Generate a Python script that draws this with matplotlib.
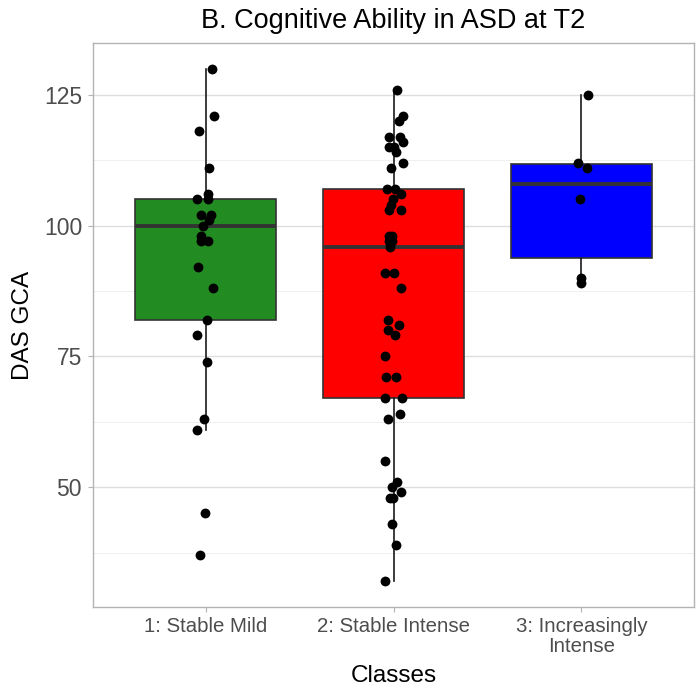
import matplotlib.pyplot as plt
from matplotlib.ticker import MultipleLocator

plt.rcParams['font.family'] = ['Liberation Sans', 'DejaVu Sans']

classes = ["1: Stable Mild", "2: Stable Intense", "3: Increasingly\nIntense"]
box_colors = ["#228B22", "#FF0000", "#0000FF"]

# box summaries (outliers are not drawn by the box, the points show them)
q1 = [82, 67, 93.75]
med = [100, 96, 108]
q3 = [105, 107, 111.75]
whis_lo = [61, 32, 89]
whis_hi = [130, 126, 125]

# individual DAS GCA scores, with the horizontal jitter seen in the picture
gca_mild = [130, 121, 118, 111, 106, 105, 105, 102, 102, 101, 100, 98,
            97, 97, 92, 88, 82, 79, 74, 63, 61, 45, 37]
jit_mild = [0.035, 0.044, -0.036, 0.019, 0.014, -0.046, 0.011, -0.027, 0.028, 0.018, -0.013, -0.025,
            -0.025, 0.011, -0.043, 0.037, 0.005, -0.048, 0.007, -0.009, -0.046, -0.004, -0.029]

gca_intense = [126, 121, 120, 117, 117, 116, 115, 115, 114, 112, 111, 107,
               107, 106, 105, 104, 103, 103, 98, 98, 97, 97, 96, 91,
               91, 88, 82, 81, 80, 79, 75, 71, 71, 67, 67, 64,
               63, 55, 51, 50, 49, 48, 48, 43, 39, 32]
jit_intense = [0.020, 0.052, 0.031, -0.024, 0.035, 0.052, -0.022, 0.003, 0.013, 0.049, -0.013, -0.035,
               0.008, 0.040, -0.003, -0.013, -0.024, 0.040, -0.024, -0.008, -0.024, -0.008, -0.019, -0.045,
               0.003, 0.042, -0.031, 0.029, -0.028, 0.010, -0.044, -0.040, 0.013, -0.044, 0.044, 0.035,
               -0.028, -0.044, 0.020, -0.010, 0.038, -0.019, -0.004, -0.006, 0.015, -0.044]

gca_increasing = [125, 112, 111, 105, 90, 89]
jit_increasing = [0.034, -0.016, 0.032, -0.007, -0.003, -0.003]

scores = [gca_mild, gca_intense, gca_increasing]
jitters = [jit_mild, jit_intense, jit_increasing]

fig = plt.figure(figsize=(6.96, 6.90), dpi=100)
ax = fig.add_axes([93 / 696, 1 - 607 / 690, 601 / 696, 564 / 690])

stats = []
for i in range(len(classes)):
    stats.append({'q1': q1[i], 'med': med[i], 'q3': q3[i],
                  'whislo': whis_lo[i], 'whishi': whis_hi[i], 'label': classes[i]})

bp = ax.bxp(stats, positions=[1, 2, 3], widths=0.75, showfliers=False, showcaps=False,
            patch_artist=True,
            boxprops=dict(edgecolor='#333333', linewidth=1.2),
            medianprops=dict(color='#333333', linewidth=2.8),
            whiskerprops=dict(color='#1a1a1a', linewidth=1.2))
for patch, c in zip(bp['boxes'], box_colors):
    patch.set_facecolor(c)

for i in range(len(classes)):
    xs = [i + 1 + j for j in jitters[i]]
    ax.scatter(xs, scores[i], s=50, color='black', zorder=5, linewidths=0)

ax.set_xlim(0.4, 3.6)
ax.set_ylim(27.1, 134.9)
ax.set_xticks([1, 2, 3])
ax.set_xticklabels(classes, linespacing=1.1)
ax.yaxis.set_major_locator(MultipleLocator(25))
ax.yaxis.set_minor_locator(MultipleLocator(12.5))

ax.set_axisbelow(True)
ax.grid(axis='y', which='major', color='#DEDEDE', linewidth=1.0)
ax.grid(axis='y', which='minor', color='#EFEFEF', linewidth=0.7)
ax.tick_params(axis='y', which='minor', length=0)
ax.tick_params(axis='both', which='major', length=3.6, width=0.8, color='#B3B3B3',
               labelcolor='#4D4D4D')
ax.tick_params(axis='y', labelsize=16.5, pad=4.3)
ax.tick_params(axis='x', labelsize=14.7, pad=3.6)
for sp in ax.spines.values():
    sp.set_color('#B3B3B3')
    sp.set_linewidth(1.0)

ax.set_xlabel("Classes", fontsize=17.5, labelpad=6)
ax.set_ylabel("DAS GCA", fontsize=17.5, labelpad=7)
ax.set_title("B. Cognitive Ability in ASD at T2", fontsize=19.5, pad=11)

fig.savefig('out.png', dpi=100)
